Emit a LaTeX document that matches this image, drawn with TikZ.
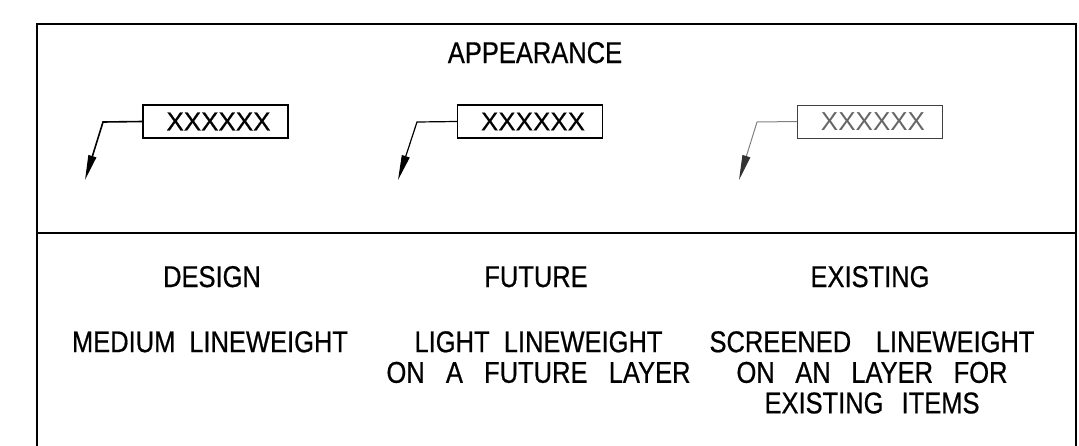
\documentclass[tikz,border=0pt]{standalone}
\usepackage{fontspec}
\setmainfont{Liberation Sans}
\newfontfamily\cadfont[FakeStretch=0.85,FakeBold=0.6]{Liberation Sans}
\newfontfamily\xfont[FakeBold=0.5]{Liberation Sans}
\newfontfamily\xlightfont[FakeBold=0.2]{Liberation Sans}
\newfontfamily\xthinfont{Liberation Sans}
\newcommand{\cadline}[2]{\makebox[#1pt][s]{#2}}
\usetikzlibrary{arrows.meta}
\begin{document}
\begin{tikzpicture}[x=1pt,y=-1pt,
  frame/.style={line width=2.2pt, line cap=rect},
  label/.style={font=\cadfont\fontsize{30}{30.6}\selectfont, align=center, inner sep=0pt},
  tagbox/.style={draw, minimum width=145pt, minimum height=33pt, inner sep=0pt,
    font=\xfont\fontsize{26}{26}\selectfont},
  leader/.style={-{Triangle[length=25pt,width=8pt]}}
]
\useasboundingbox (0,0) rectangle (1079,445);
% frame
\draw[frame] (37,460) -- (37,24) -- (1076,24) -- (1076,460);
\draw[line width=1.8pt] (37,233) -- (1076,233);

\node[label, anchor=base] (app) at (535,63) {APPEARANCE};

% design
\node[tagbox, line width=1.8pt] (b1) at (215.5,121.5) {\hspace*{6pt}XXXXXX};
\coordinate (k1) at (103,122);
\coordinate (t1) at (85,180);
\draw[line width=1.6pt, leader] (b1.west) -- (k1) -- (t1);

% future
\node[tagbox, line width=1.4pt, font=\xlightfont\fontsize{26}{26}\selectfont] (b2) at (530,121.5) {\hspace*{6pt}XXXXXX};
\coordinate (k2) at (417,122);
\coordinate (t2) at (398,180);
\draw[line width=1.2pt, leader] (b2.west) -- (k2) -- (t2);

% existing
\node[tagbox, line width=0.8pt, draw=black!75, text=black!60,
  font=\xthinfont\fontsize{26}{26}\selectfont] (b3) at (870,121.5) {\hspace*{6pt}XXXXXX};
\coordinate (k3) at (757,122);
\coordinate (t3) at (739,180);
\draw[line width=1pt, draw=black!50, -{Triangle[length=25pt,width=8pt,color=black!80]}] (b3.west) -- (k3) -- (t3);

% bottom labels
\node[label, anchor=base] (d1) at (212,287) {DESIGN};
\node[label, anchor=base] (d2) at (536,287) {FUTURE};
\node[label, anchor=base] (d3) at (870,287) {EXISTING};

\node[label, anchor=north] (e1) at (210,331) {\cadline{276}{MEDIUM\hfill LINEWEIGHT}};
\node[label, anchor=north] (e2) at (538.5,331) {\cadline{248}{LIGHT\hfill LINEWEIGHT}\\\cadline{304}{ON\hfill A\hfill FUTURE\hfill LAYER}};
\node[label, anchor=north] (e3) at (872,331) {\cadline{325}{SCREENED\hfill LINEWEIGHT}\\\cadline{271}{ON\hfill AN\hfill LAYER\hfill FOR}\\\cadline{215}{EXISTING\hfill ITEMS}};
\end{tikzpicture}
\end{document}
